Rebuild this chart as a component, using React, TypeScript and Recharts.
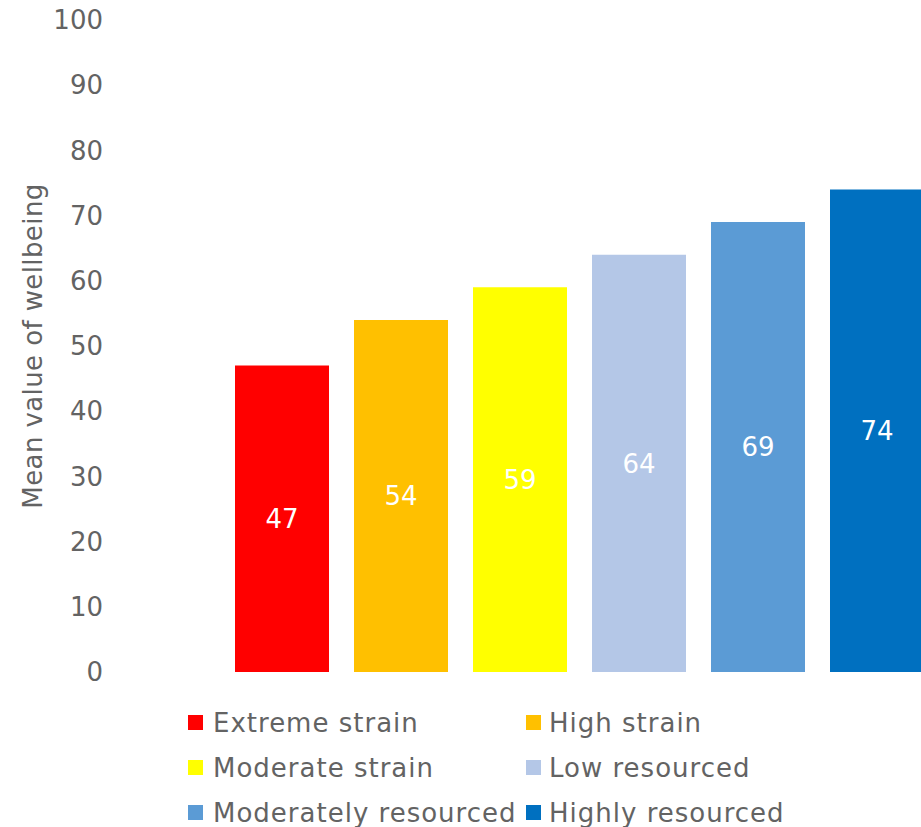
import { BarChart, Bar, XAxis, YAxis, Cell, LabelList, Legend } from 'recharts'

const categories = [
  'Extreme strain',
  'High strain',
  'Moderate strain',
  'Low resourced',
  'Moderately resourced',
  'Highly resourced',
]
const values = [47, 54, 59, 64, 69, 74]
const colors = ['#FF0000', '#FFC000', '#FFFF00', '#B4C7E7', '#5B9BD5', '#0070C0']
const yTicks = [0, 10, 20, 30, 40, 50, 60, 70, 80, 90, 100]

const FONT = '"DejaVu Sans", Verdana, sans-serif'
const TEXT_COLOR = '#636363'

const data = categories.map((name, i) => ({ name, value: values[i] }))

function WellbeingLegend() {
  return (
    <div
      style={{
        display: 'grid',
        gridTemplateColumns: '338px auto',
        gridAutoRows: '45px',
        fontFamily: FONT,
        fontSize: 26,
        letterSpacing: 1,
        color: TEXT_COLOR,
        whiteSpace: 'nowrap',
      }}
    >
      {categories.map((name, i) => (
        <div key={name} style={{ display: 'flex', alignItems: 'center' }}>
          <span
            style={{
              display: 'inline-block',
              width: 15,
              height: 15,
              background: colors[i],
              marginRight: i % 2 === 0 ? 10 : 8,
            }}
          />
          <span>{name}</span>
        </div>
      ))}
    </div>
  )
}

export default function App() {
  return (
    <div
      style={{
        position: 'absolute',
        left: 0,
        top: 0,
        width: 921,
        height: 827,
        overflow: 'hidden',
        background: '#fff',
      }}
    >
      <BarChart
        width={940}
        height={827}
        data={data}
        margin={{ top: 20, right: 4, left: 0, bottom: 155 }}
      >
        <XAxis dataKey="name" hide />
        <YAxis
          type="number"
          domain={[0, 100]}
          ticks={yTicks}
          width={222}
          axisLine={false}
          tickLine={false}
          tickSize={0}
          tickMargin={119}
          tick={{ fontSize: 26, fill: TEXT_COLOR, fontFamily: FONT }}
          label={{
            value: 'Mean value of wellbeing',
            angle: -90,
            position: 'insideLeft',
            offset: 33,
            textAnchor: 'middle',
            fill: TEXT_COLOR,
            fontSize: 26,
            fontFamily: FONT,
            style: { letterSpacing: 0.4 },
          }}
        />
        <Legend
          layout="horizontal"
          verticalAlign="middle"
          align="center"
          wrapperStyle={{ top: 700, left: 188, width: 720 }}
          content={() => <WellbeingLegend />}
        />
        <Bar dataKey="value" barSize={94} isAnimationActive={false}>
          {data.map((d, i) => (
            <Cell key={d.name} fill={colors[i]} />
          ))}
          <LabelList
            dataKey="value"
            position="center"
            fill="#FFFFFF"
            fontSize={26}
            fontFamily={FONT}
          />
        </Bar>
      </BarChart>
    </div>
  )
}
